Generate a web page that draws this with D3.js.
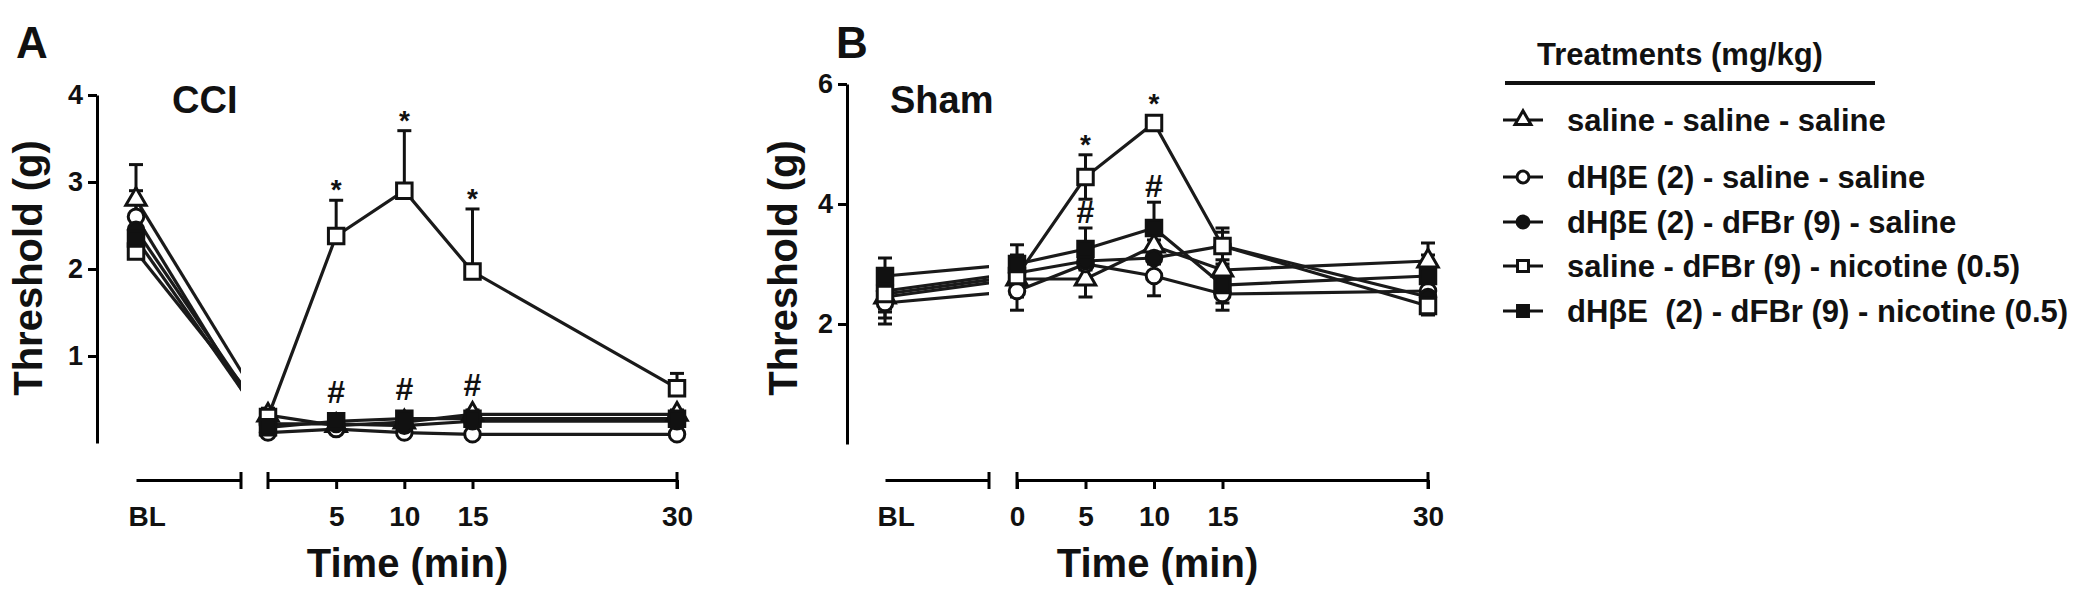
<!DOCTYPE html>
<html>
<head>
<meta charset="utf-8">
<script src="https://cdn.jsdelivr.net/npm/d3@7/dist/d3.min.js"></script>
<style>
  body { margin: 0; background: #fff; }
  svg text { font-family: "Liberation Sans", Arial, sans-serif; font-weight: bold; fill: #111; }
</style>
</head>
<body>
<svg id="chart" width="2100" height="610"></svg>
<script>
// time points (BL = baseline, then minutes after injection)
const timepoints = ['BL', 0, 5, 10, 15, 30];
const treatments = [
  'saline - saline - saline',
  'dHβE (2) - saline - saline',
  'dHβE (2) - dFBr (9) - saline',
  'saline - dFBr (9) - nicotine (0.5)',
  'dHβE  (2) - dFBr (9) - nicotine (0.5)'
];
const markerShapes = ['triangle', 'circle', 'circle', 'square', 'square'];
const markerFilled = [false, false, true, false, true];

// CCI rats: mean threshold (g) and SEM
const cciSalSalSal = [2.8, 0.32, 0.2, 0.24, 0.33, 0.33];
const cciSalSalSalSem = [0.4, 0.08, 0.05, 0.05, 0.05, 0.05];
const cciDhbSalSal = [2.6, 0.12, 0.16, 0.12, 0.1, 0.1];
const cciDhbSalSalSem = [0.3, 0.05, 0.05, 0.05, 0.05, 0.05];
const cciDhbDfbSal = [2.45, 0.22, 0.22, 0.2, 0.25, 0.25];
const cciDhbDfbSalSem = [0.3, 0.05, 0.05, 0.05, 0.05, 0.05];
const cciSalDfbNic = [2.2, 0.3, 2.38, 2.9, 1.97, 0.63];
const cciSalDfbNicSem = [0.2, 0.08, 0.41, 0.69, 0.72, 0.17];
const cciDhbDfbNic = [2.35, 0.18, 0.25, 0.28, 0.28, 0.28];
const cciDhbDfbNicSem = [0.3, 0.05, 0.05, 0.05, 0.05, 0.05];

// Sham rats
const shamSalSalSal = [2.45, 2.75, 2.75, 3.3, 2.9, 3.05];
const shamSalSalSalSem = [0.35, 0.3, 0.3, 0.3, 0.3, 0.3];
const shamDhbSalSal = [2.35, 2.55, 3.0, 2.8, 2.5, 2.55];
const shamDhbSalSalSem = [0.35, 0.32, 0.3, 0.33, 0.27, 0.3];
const shamDhbDfbSal = [2.55, 2.85, 3.05, 3.1, 3.3, 2.45];
const shamDhbDfbSalSem = [0.3, 0.3, 0.3, 0.3, 0.3, 0.3];
const shamSalDfbNic = [2.5, 2.8, 4.45, 5.35, 3.3, 2.3];
const shamSalDfbNicSem = [0.3, 0.3, 0.37, 0.08, 0.23, 0.12];
const shamDhbDfbNic = [2.8, 3.0, 3.25, 3.6, 2.65, 2.8];
const shamDhbDfbNicSem = [0.3, 0.32, 0.35, 0.43, 0.3, 0.35];

// significance marks (* vs saline for nicotine group, # vs nicotine group)
const cciStarTimes = [5, 10, 15];
const cciHashTimes = [5, 10, 15];
const shamStarTimes = [5, 10];
const shamHashTimes = [5, 10];

const cciTicks = [1, 2, 3, 4];
const shamTicks = [2, 4, 6];
const cciXTicks = [5, 10, 15, 30];
const shamXTicks = [0, 5, 10, 15, 30];

const svg = d3.select('#chart');
svg.append('rect').attr('width', 2100).attr('height', 610).attr('fill', '#fff');

const panels = [
  {
    key: 'cci', letter: 'A', title: 'CCI', yMax: 4, yTicks: cciTicks, xTicks: cciXTicks,
    means: [cciSalSalSal, cciDhbSalSal, cciDhbDfbSal, cciSalDfbNic, cciDhbDfbNic],
    sems: [cciSalSalSalSem, cciDhbSalSalSem, cciDhbDfbSalSem, cciSalDfbNicSem, cciDhbDfbNicSem],
    stars: cciStarTimes, hashes: cciHashTimes, errBoth: false,
    axisX: 97, yRange: [443, 95], blX: 136, breakX: 241, zeroX: 268, endX: 677,
    letterX: 16, titleX: 172, yLabelX: 42, hashGap: 25
  },
  {
    key: 'sham', letter: 'B', title: 'Sham', yMax: 6, yTicks: shamTicks, xTicks: shamXTicks,
    means: [shamSalSalSal, shamDhbSalSal, shamDhbDfbSal, shamSalDfbNic, shamDhbDfbNic],
    sems: [shamSalSalSalSem, shamDhbSalSalSem, shamDhbDfbSalSem, shamSalDfbNicSem, shamDhbDfbNicSem],
    stars: shamStarTimes, hashes: shamHashTimes, errBoth: true,
    axisX: 847, yRange: [444, 84], blX: 885, breakX: 989, zeroX: 1017, endX: 1428,
    letterX: 836, titleX: 890, yLabelX: 797, hashGap: 16
  }
];

const xAxisY = 480;

function symbolFor(i, size) {
  const type = markerShapes[i] === 'triangle' ? d3.symbolTriangle
    : markerShapes[i] === 'square' ? d3.symbolSquare : d3.symbolCircle;
  return d3.symbol().type(type).size(size)();
}

panels.forEach(p => {
  const g = svg.append('g');
  const y = d3.scaleLinear().domain([0, p.yMax]).range(p.yRange);
  const xBL = d3.scalePoint().domain(['BL']).range([p.blX, p.breakX]).align(0);
  const xT = d3.scaleLinear().domain([0, 30]).range([p.zeroX, p.endX]);
  const x = t => t === 'BL' ? xBL('BL') : xT(t);

  // y axis
  const ya = g.append('g').attr('transform', `translate(${p.axisX},0)`)
    .call(d3.axisLeft(y).tickValues(p.yTicks).tickFormat(d3.format('d'))
      .tickSize(9).tickSizeOuter(0).tickPadding(5));
  ya.select('.domain').attr('stroke-width', 3);
  ya.selectAll('.tick line').attr('stroke-width', 3);
  ya.selectAll('.tick text').attr('font-size', 27).attr('font-family', null);

  // x axis, two pieces with a break
  const xa1 = g.append('g').attr('transform', `translate(0,${xAxisY})`)
    .call(d3.axisBottom(xBL).tickSize(0).tickSizeOuter(0).tickPadding(26));
  xa1.select('.domain').attr('stroke-width', 3);
  xa1.selectAll('.tick text').attr('font-size', 28).attr('font-family', null)
    .attr('text-anchor', 'start').attr('x', -8);
  const xa2 = g.append('g').attr('transform', `translate(0,${xAxisY})`)
    .call(d3.axisBottom(xT).tickValues(p.xTicks).tickSize(9).tickSizeOuter(0).tickPadding(17));
  xa2.select('.domain').attr('stroke-width', 3);
  xa2.selectAll('.tick line').attr('stroke-width', 3);
  xa2.selectAll('.tick text').attr('font-size', 28).attr('font-family', null);
  [xBL.range()[1], xT.range()[0], xT.range()[1]].forEach(bx => {
    g.append('line').attr('x1', bx).attr('x2', bx)
      .attr('y1', xAxisY - 8).attr('y2', xAxisY + 9)
      .attr('stroke', '#000').attr('stroke-width', 3);
  });

  // labels
  g.append('text').attr('x', p.letterX).attr('y', 58).attr('font-size', 44).text(p.letter);
  g.append('text').attr('x', p.titleX).attr('y', 113).attr('font-size', 38).text(p.title);
  g.append('text').attr('transform', `translate(${p.yLabelX},268) rotate(-90)`)
    .attr('text-anchor', 'middle').attr('font-size', 40).text('Threshold (g)');
  g.append('text').attr('x', (xT(0) + xT(30)) / 2 - 65)
    .attr('y', 577).attr('text-anchor', 'middle').attr('font-size', 40).text('Time (min)');

  // clip for the baseline piece (line stops at the axis break)
  const clipId = 'clip-' + p.key;
  svg.append('clipPath').attr('id', clipId).append('rect')
    .attr('x', p.axisX).attr('y', 0).attr('width', p.breakX - p.axisX).attr('height', 610);

  const line = d3.line().x(d => x(d.t)).y(d => y(d.v));
  const seriesPts = p.means.map((m, i) => timepoints.map((t, j) => ({ t, v: m[j], s: p.sems[i][j], i })));

  // lines
  seriesPts.forEach(pts => {
    g.append('path').datum(pts.slice(0, 2)).attr('d', line)
      .attr('clip-path', `url(#${clipId})`)
      .attr('fill', 'none').attr('stroke', '#1a1a1a').attr('stroke-width', 3.2);
    g.append('path').datum(pts.slice(1)).attr('d', line)
      .attr('fill', 'none').attr('stroke', '#1a1a1a').attr('stroke-width', 3.2);
  });

  // error bars
  seriesPts.forEach(pts => {
    pts.forEach(d => {
      const cx = x(d.t);
      const ends = p.errBoth ? [d.v + d.s, d.v - d.s] : [d.v + d.s];
      ends.forEach(e => {
        g.append('line').attr('x1', cx).attr('x2', cx).attr('y1', y(d.v)).attr('y2', y(e))
          .attr('stroke', '#111').attr('stroke-width', 3);
        g.append('line').attr('x1', cx - 7).attr('x2', cx + 7).attr('y1', y(e)).attr('y2', y(e))
          .attr('stroke', '#111').attr('stroke-width', 3);
      });
    });
  });

  // markers
  seriesPts.forEach((pts, i) => {
    const size = markerShapes[i] === 'square' ? 240 : markerShapes[i] === 'triangle' ? 180 : 190;
    g.selectAll(null).data(pts).enter().append('path')
      .attr('d', symbolFor(i, size))
      .attr('transform', d => `translate(${x(d.t)},${y(d.v)})`)
      .attr('fill', markerFilled[i] ? '#111' : '#fff')
      .attr('stroke', '#111').attr('stroke-width', 3);
  });

  // significance marks
  const nic = 3;
  p.stars.forEach(t => {
    const j = timepoints.indexOf(t);
    const top = Math.min(y(p.means[nic][j] + p.sems[nic][j]), y(p.means[nic][j]) - 9);
    g.append('text').attr('x', x(t)).attr('y', top - 1)
      .attr('text-anchor', 'middle').attr('font-size', 28).attr('font-weight', 'normal').text('*');
  });
  p.hashes.forEach(t => {
    const j = timepoints.indexOf(t);
    const others = p.means.map((m, i) => i === nic ? -Infinity : m[j] + p.sems[i][j]);
    const top = y(d3.max(others));
    g.append('text').attr('x', x(t)).attr('y', top - p.hashGap + 11)
      .attr('text-anchor', 'middle').attr('font-size', 32).attr('font-weight', 'normal').text('#');
  });
});

// legend
const legendRowY = [120, 177, 222, 266, 311];
const lg = svg.append('g');
lg.append('text').attr('x', 1537).attr('y', 65).attr('font-size', 31).text('Treatments (mg/kg)');
lg.append('line').attr('x1', 1505).attr('x2', 1875).attr('y1', 83).attr('y2', 83)
  .attr('stroke', '#111').attr('stroke-width', 4);
treatments.forEach((name, i) => {
  const ry = legendRowY[i];
  lg.append('line').attr('x1', 1503).attr('x2', 1543).attr('y1', ry).attr('y2', ry)
    .attr('stroke', '#111').attr('stroke-width', 3);
  lg.append('path').attr('d', symbolFor(i, markerShapes[i] === 'square' ? 120 : 110))
    .attr('transform', `translate(1523,${ry})`)
    .attr('fill', markerFilled[i] ? '#111' : '#fff').attr('stroke', '#111').attr('stroke-width', 3);
  lg.append('text').attr('x', 1567).attr('y', ry).attr('dy', '0.35em')
    .attr('font-size', 31).style('white-space', 'pre').text(name);
});
</script>
</body>
</html>
